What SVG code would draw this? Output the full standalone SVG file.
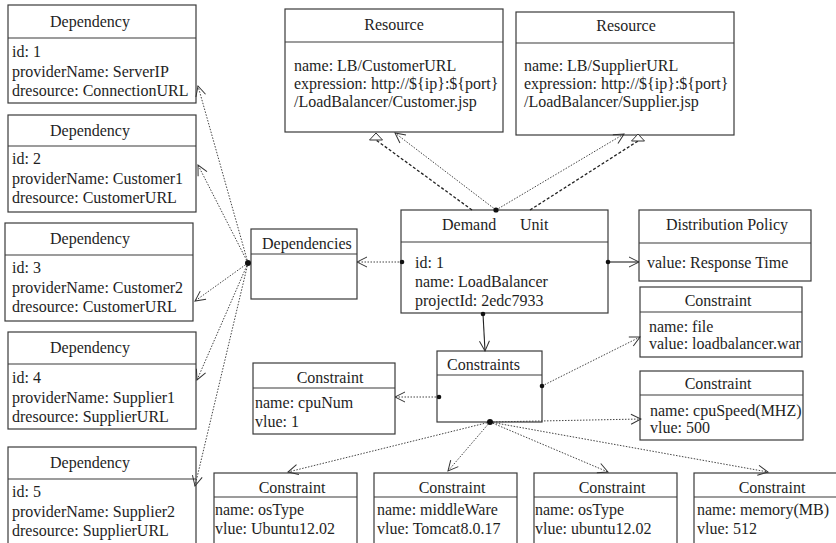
<svg xmlns="http://www.w3.org/2000/svg" width="836" height="543" viewBox="0 0 836 543">
  <style>
    .box { fill: #fff; stroke: #3a3a3a; stroke-width: 1.2; }
    .sep { stroke: #3a3a3a; stroke-width: 1.2; }
    text { font-family: "Liberation Serif", "Times New Roman", serif; font-size: 16px; fill: #1e1e1e; }
    .c { text-anchor: middle; }
    .dotted { fill: none; stroke: #444; stroke-width: 1; stroke-dasharray: 1.5 1.5; }
    .dashed { fill: none; stroke: #222; stroke-width: 1.3; stroke-dasharray: 3 2; }
    .solid { fill: none; stroke: #222; stroke-width: 1.1; }
    .end { fill: #111; }
  </style>
  <defs>
    <!-- open arrowhead for navigable associations -->
    <marker id="open" viewBox="0 0 12 12" refX="11" refY="6" markerWidth="12" markerHeight="12" markerUnits="userSpaceOnUse" orient="auto">
      <path d="M1,1 L11,6 L1,11" fill="none" stroke="#333" stroke-width="1"/>
    </marker>
    <!-- hollow triangle for realization, drawn upright -->
    <marker id="tri" viewBox="0 0 14 8" refX="7" refY="7.5" markerWidth="14" markerHeight="8" markerUnits="userSpaceOnUse" orient="0">
      <path d="M7,0.5 L13.5,7.5 L0.5,7.5 Z" fill="#fff" stroke="#333" stroke-width="1"/>
    </marker>
  </defs>

  <rect width="836" height="543" fill="#fff"/>

  <!-- Dependency objects -->
  <g id="dependency-1">
    <rect class="box" x="8" y="5" width="188" height="98"/>
    <line class="sep" x1="8" y1="38" x2="196" y2="38"/>
    <text x="50" y="27">Dependency</text>
    <text x="12" y="57">id: 1</text>
    <text x="12" y="76.5">providerName: ServerIP</text>
    <text x="12" y="96">dresource: ConnectionURL</text>
  </g>
  <g id="dependency-2">
    <rect class="box" x="8" y="115" width="188" height="97"/>
    <line class="sep" x1="8" y1="146" x2="196" y2="146"/>
    <text x="50" y="136">Dependency</text>
    <text x="12" y="164">id: 2</text>
    <text x="12" y="183.5">providerName: Customer1</text>
    <text x="12" y="203">dresource: CustomerURL</text>
  </g>
  <g id="dependency-3">
    <rect class="box" x="5" y="223" width="188" height="98"/>
    <line class="sep" x1="5" y1="255" x2="193" y2="255"/>
    <text x="50" y="244">Dependency</text>
    <text x="12" y="273">id: 3</text>
    <text x="12" y="292.5">providerName: Customer2</text>
    <text x="12" y="312">dresource: CustomerURL</text>
  </g>
  <g id="dependency-4">
    <rect class="box" x="8" y="332" width="188" height="97"/>
    <line class="sep" x1="8" y1="364" x2="196" y2="364"/>
    <text x="50" y="353">Dependency</text>
    <text x="12" y="383">id: 4</text>
    <text x="12" y="402.5">providerName: Supplier1</text>
    <text x="12" y="422">dresource: SupplierURL</text>
  </g>
  <g id="dependency-5">
    <rect class="box" x="8" y="447" width="188" height="110"/>
    <line class="sep" x1="8" y1="479" x2="196" y2="479"/>
    <text x="50" y="468">Dependency</text>
    <text x="12" y="497">id: 5</text>
    <text x="12" y="516.5">providerName: Supplier2</text>
    <text x="12" y="536">dresource: SupplierURL</text>
  </g>

  <!-- Resources -->
  <g id="resource-customer">
    <rect class="box" x="285" y="9" width="218" height="123"/>
    <line class="sep" x1="285" y1="42" x2="503" y2="42"/>
    <text class="c" x="394" y="30">Resource</text>
    <text x="294" y="70.5">name: LB/CustomerURL</text>
    <text x="294" y="88.5">expression: http://${ip}:${port}</text>
    <text x="294" y="106.5">/LoadBalancer/Customer.jsp</text>
  </g>
  <g id="resource-supplier">
    <rect class="box" x="516" y="12" width="218" height="123"/>
    <line class="sep" x1="516" y1="43" x2="734" y2="43"/>
    <text class="c" x="626" y="31">Resource</text>
    <text x="524" y="71">name: LB/SupplierURL</text>
    <text x="524" y="89">expression: http://${ip}:${port}</text>
    <text x="524" y="107">/LoadBalancer/Supplier.jsp</text>
  </g>

  <!-- Central unit and its parts -->
  <g id="dependencies">
    <rect class="box" x="251" y="229" width="106" height="70"/>
    <line class="sep" x1="251" y1="254" x2="357" y2="254"/>
    <text x="262" y="249">Dependencies</text>
  </g>
  <g id="demand-unit">
    <rect class="box" x="401" y="210" width="207" height="103"/>
    <line class="sep" x1="401" y1="242" x2="608" y2="242"/>
    <text x="442" y="230">Demand</text>
    <text x="520" y="230">Unit</text>
    <text x="415" y="268">id: 1</text>
    <text x="415" y="287">name: LoadBalancer</text>
    <text x="415" y="306">projectId: 2edc7933</text>
  </g>
  <g id="distribution-policy">
    <rect class="box" x="639" y="210" width="172" height="71"/>
    <line class="sep" x1="639" y1="243" x2="811" y2="243"/>
    <text class="c" x="727" y="230">Distribution Policy</text>
    <text x="647" y="268">value: Response Time</text>
  </g>
  <g id="constraints">
    <rect class="box" x="437" y="351" width="105" height="71"/>
    <line class="sep" x1="437" y1="375" x2="542" y2="375"/>
    <text x="447" y="370">Constraints</text>
  </g>

  <!-- Constraint objects -->
  <g id="constraint-file">
    <rect class="box" x="640" y="287" width="162" height="70"/>
    <line class="sep" x1="640" y1="312" x2="802" y2="312"/>
    <text class="c" x="718" y="306">Constraint</text>
    <text x="649" y="332">name: file</text>
    <text x="649" y="349">value: loadbalancer.war</text>
  </g>
  <g id="constraint-cpuspeed">
    <rect class="box" x="640" y="371" width="163" height="69"/>
    <line class="sep" x1="640" y1="395" x2="803" y2="395"/>
    <text class="c" x="718" y="389">Constraint</text>
    <text x="650" y="416">name: cpuSpeed(MHZ)</text>
    <text x="650" y="433">vlue: 500</text>
  </g>
  <g id="constraint-cpunum">
    <rect class="box" x="253" y="363" width="142" height="71"/>
    <line class="sep" x1="253" y1="388" x2="395" y2="388"/>
    <text class="c" x="330" y="383">Constraint</text>
    <text x="255" y="408">name: cpuNum</text>
    <text x="255" y="427">vlue: 1</text>
  </g>
  <g id="constraint-ostype-1">
    <rect class="box" x="214" y="473" width="143" height="80"/>
    <line class="sep" x1="214" y1="497" x2="357" y2="497"/>
    <text class="c" x="292" y="493">Constraint</text>
    <text x="215" y="515">name: osType</text>
    <text x="215" y="534">vlue: Ubuntu12.02</text>
  </g>
  <g id="constraint-middleware">
    <rect class="box" x="374" y="473" width="143" height="80"/>
    <line class="sep" x1="374" y1="497" x2="517" y2="497"/>
    <text class="c" x="452" y="493">Constraint</text>
    <text x="377" y="515">name: middleWare</text>
    <text x="377" y="534">vlue: Tomcat8.0.17</text>
  </g>
  <g id="constraint-ostype-2">
    <rect class="box" x="534" y="473" width="143" height="80"/>
    <line class="sep" x1="534" y1="497" x2="677" y2="497"/>
    <text class="c" x="612" y="493">Constraint</text>
    <text x="535" y="515">name: osType</text>
    <text x="535" y="534">vlue: ubuntu12.02</text>
  </g>
  <g id="constraint-memory">
    <rect class="box" x="694" y="473" width="160" height="80"/>
    <line class="sep" x1="694" y1="497" x2="854" y2="497"/>
    <text class="c" x="772" y="493">Constraint</text>
    <text x="697" y="515">name: memory(MB)</text>
    <text x="697" y="534">vlue: 512</text>
  </g>

  <!-- Connectors -->
  <g id="connectors">
    <!-- Dependencies to each Dependency -->
    <line class="dotted" x1="248" y1="263" x2="198" y2="86" marker-end="url(#open)"/>
    <line class="dotted" x1="248" y1="263" x2="198" y2="165" marker-end="url(#open)"/>
    <line class="dotted" x1="248" y1="263" x2="195" y2="301" marker-end="url(#open)"/>
    <line class="dotted" x1="248" y1="263" x2="197" y2="380" marker-end="url(#open)"/>
    <line class="dotted" x1="248" y1="263" x2="195" y2="486" marker-end="url(#open)"/>
    <circle class="end" cx="248" cy="263" r="3"/>

    <!-- Demand Unit to Dependencies, Distribution Policy, Constraints -->
    <line class="dotted" x1="402" y1="262" x2="357" y2="262" marker-end="url(#open)"/>
    <circle class="end" cx="402" cy="262" r="2.3"/>
    <line class="solid" x1="608" y1="262" x2="639" y2="262" marker-end="url(#open)"/>
    <circle class="end" cx="608" cy="262" r="2.3"/>
    <line class="solid" x1="483" y1="314" x2="485" y2="351" marker-end="url(#open)"/>
    <circle class="end" cx="483" cy="314" r="2.3"/>

    <!-- Demand Unit to Resources -->
    <line class="dotted" x1="496" y1="210" x2="395" y2="133" marker-end="url(#open)"/>
    <line class="dotted" x1="496" y1="210" x2="624" y2="134" marker-end="url(#open)"/>
    <line class="dashed" x1="472" y1="210" x2="376" y2="140" marker-end="url(#tri)"/>
    <line class="dashed" x1="530" y1="210" x2="638" y2="141" marker-end="url(#tri)"/>
    <circle class="end" cx="496" cy="210" r="2.6"/>

    <!-- Constraints to each Constraint -->
    <line class="dotted" x1="439" y1="397" x2="395" y2="397" marker-end="url(#open)"/>
    <circle class="end" cx="439" cy="397" r="2.3"/>
    <line class="dotted" x1="542" y1="386" x2="640" y2="337" marker-end="url(#open)"/>
    <circle class="end" cx="542" cy="386" r="2.3"/>
    <line class="dotted" x1="490" y1="422" x2="641" y2="419" marker-end="url(#open)"/>
    <line class="dotted" x1="490" y1="422" x2="288" y2="472" marker-end="url(#open)"/>
    <line class="dotted" x1="490" y1="422" x2="448" y2="471" marker-end="url(#open)"/>
    <line class="dotted" x1="490" y1="422" x2="608" y2="472" marker-end="url(#open)"/>
    <line class="dotted" x1="490" y1="422" x2="768" y2="472" marker-end="url(#open)"/>
    <circle class="end" cx="490" cy="422" r="3"/>
  </g>
</svg>
